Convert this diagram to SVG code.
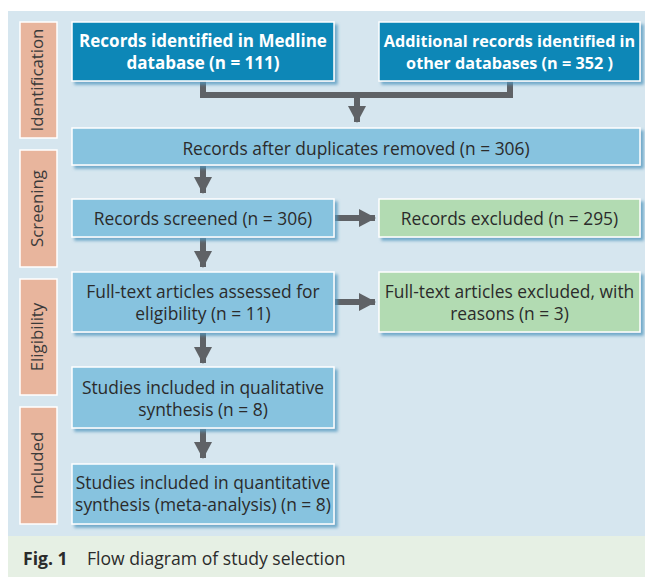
<svg xmlns="http://www.w3.org/2000/svg" width="645" height="577" viewBox="0 0 645 577">
<defs>
<filter id="sh" x="-10%" y="-20%" width="125%" height="150%">
<feDropShadow dx="3" dy="3" stdDeviation="1.5" flood-color="#4f95bd" flood-opacity="0.75"/>
</filter>
<marker id="ah" viewBox="0 0 17 18" refX="16" refY="9" markerWidth="17" markerHeight="18" markerUnits="userSpaceOnUse" orient="auto">
<path d="M0,0 L17,9 L0,18 Z" fill="#5f6266"/>
</marker>
<style>
.stage{fill:#e8b59d;stroke:#ffffff;stroke-width:1.5}
.stxt{font-family:"Open Sans","Noto Sans",sans-serif;font-size:16.8px;fill:#3a3a3a;text-anchor:middle}
.dark{fill:#0a87b7;stroke:#ffffff;stroke-width:1.5;filter:url(#sh)}
.light{fill:#87c3df;stroke:#ffffff;stroke-width:1.5;filter:url(#sh)}
.green{fill:#b2dbb2;stroke:#ffffff;stroke-width:1.5;filter:url(#sh)}
.wt{font-family:"Open Sans","Noto Sans",sans-serif;font-size:17px;font-weight:bold;fill:#ffffff;text-anchor:middle}
.wt2{font-size:16.2px}
.bt{font-family:"Open Sans","Noto Sans",sans-serif;font-size:17.4px;fill:#2b2b2b;text-anchor:middle}
.cap{font-family:"Open Sans","Noto Sans",sans-serif;font-size:17.6px;fill:#2b2b2b}
.con{fill:none;stroke:#5f6266;stroke-width:6}
.arr{fill:none;stroke:#5f6266;stroke-width:6;marker-end:url(#ah)}
</style>
</defs>
<rect x="0" y="0" width="645" height="577" fill="#ffffff"/>
<rect x="8" y="11" width="637" height="525" fill="#d6e6ef"/>
<rect x="8" y="536" width="637" height="41" fill="#e6f0e4"/>

<g id="stage-identification">
<rect class="stage" x="20" y="22" width="37" height="116"/>
<text class="stxt" transform="translate(43,80) rotate(-90)">Identification</text>
</g>
<g id="stage-screening">
<rect class="stage" x="20" y="150" width="37" height="117"/>
<text class="stxt" transform="translate(43,208.5) rotate(-90)">Screening</text>
</g>
<g id="stage-eligibility">
<rect class="stage" x="20" y="279" width="37" height="116"/>
<text class="stxt" transform="translate(43,337) rotate(-90)">Eligibility</text>
</g>
<g id="stage-included">
<rect class="stage" x="20" y="407" width="37" height="117"/>
<text class="stxt" transform="translate(43,465.5) rotate(-90)">Included</text>
</g>

<g id="connectors">
<path class="con" d="M203,81 V95 H510 V81"/>
<path class="arr" d="M357,95 V122"/>
<path class="arr" d="M203,166 V193"/>
<path class="arr" d="M335,218 H375"/>
<path class="arr" d="M203,238 V267"/>
<path class="arr" d="M335,302 H375"/>
<path class="arr" d="M203,333 V363"/>
<path class="arr" d="M203,429 V458"/>
</g>

<g id="medline">
<rect class="dark" x="72" y="22" width="262" height="59"/>
<text class="wt" x="203" y="47">Records identified in Medline</text>
<text class="wt" x="203" y="69">database (n = 111)</text>
</g>
<g id="additional">
<rect class="dark" x="379" y="22" width="261" height="59"/>
<text class="wt wt2" x="509.5" y="47">Additional records identified in</text>
<text class="wt wt2" x="509.5" y="69">other databases (n = 352 )</text>
</g>
<g id="duplicates">
<rect class="light" x="72" y="128" width="568" height="37"/>
<text class="bt" x="356" y="155">Records after duplicates removed (n = 306)</text>
</g>
<g id="screened">
<rect class="light" x="72" y="199" width="262" height="38"/>
<text class="bt" x="203" y="225">Records screened (n = 306)</text>
</g>
<g id="excluded">
<rect class="green" x="379" y="199" width="261" height="38"/>
<text class="bt" x="509.5" y="225">Records excluded (n = 295)</text>
</g>
<g id="fulltext">
<rect class="light" x="72" y="272" width="262" height="60"/>
<text class="bt" x="203" y="298">Full-text articles assessed for</text>
<text class="bt" x="203" y="320">eligibility (n = 11)</text>
</g>
<g id="fulltext-excluded">
<rect class="green" x="379" y="272" width="261" height="60"/>
<text class="bt" x="509.5" y="298">Full-text articles excluded, with</text>
<text class="bt" x="509.5" y="320">reasons (n = 3)</text>
</g>
<g id="qualitative">
<rect class="light" x="72" y="367" width="262" height="61"/>
<text class="bt" x="203" y="394">Studies included in qualitative</text>
<text class="bt" x="203" y="416">synthesis (n = 8)</text>
</g>
<g id="quantitative">
<rect class="light" x="72" y="464" width="262" height="60"/>
<text class="bt" x="203" y="489">Studies included in quantitative</text>
<text class="bt" x="203" y="511">synthesis (meta-analysis) (n = 8)</text>
</g>

<g id="caption">
<text class="cap" x="23" y="565" font-weight="bold">Fig. 1</text>
<text class="cap" x="87" y="565">Flow diagram of study selection</text>
</g>
</svg>
